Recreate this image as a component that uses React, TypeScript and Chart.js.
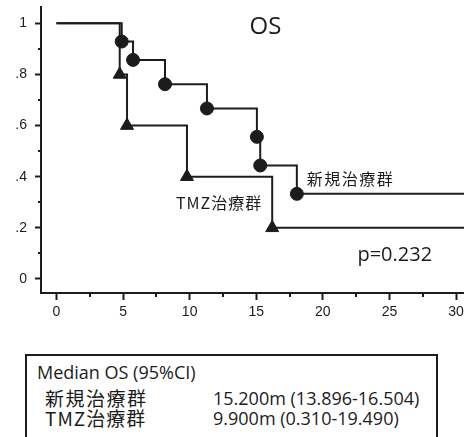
import React, { useEffect, useRef } from "react";
import { Chart, registerables } from "chart.js";

Chart.register(...registerables);

// Kaplan-Meier OS curves (months, survival fraction)
const newTimes = [0, 4.9, 5.75, 8.15, 11.3, 15.05, 15.3, 18.05, 31];
const newSurv = [1, 0.929, 0.857, 0.762, 0.667, 0.556, 0.444, 0.333, 0.333];
const tmzTimes = [0, 4.75, 5.3, 9.8, 16.2, 31];
const tmzSurv = [1, 0.8, 0.6, 0.4, 0.2, 0.2];

const xTickValues = [0, 2.5, 5, 7.5, 10, 12.5, 15, 17.5, 20, 22.5, 25, 27.5, 30];
const xTickLabels = ["0", "", "5", "", "10", "", "15", "", "20", "", "25", "", "30"];
const yTickValues = [0, 0.1, 0.2, 0.3, 0.4, 0.5, 0.6, 0.7, 0.8, 0.9, 1];
const yTickLabels = ["0", "", ".2", "", ".4", "", ".6", "", ".8", "", "1"];

const seriesNames = ["新規治療群", "TMZ治療群"];
const titleText = "OS";
const pText = "p=0.232";
const medianHeader = "Median OS (95%CI)";
const medianValues = ["15.200m (13.896-16.504)", "9.900m (0.310-19.490)"];

const INK = "#1c1c1c";
const tickFont = { family: "'Liberation Sans Narrow', 'Arial Narrow', 'Liberation Sans', sans-serif", size: 14 };

const labelAt = (vals: number[], labels: string[], v: number) => {
  let best = 0;
  for (let i = 0; i < vals.length; i++) if (Math.abs(vals[i] - v) < Math.abs(vals[best] - v)) best = i;
  return labels[best];
};

export default function App() {
  const ref = useRef<HTMLCanvasElement | null>(null);

  useEffect(() => {
    if (!ref.current) return;
    const notes = [
      { text: titleText, t: 14.5, s: 0.984, font: "24px 'Open Sans', sans-serif", ls: "0px" },
      { text: seriesNames[0], t: 18.8, s: 0.39, font: "16px 'Noto Sans CJK JP', sans-serif", ls: "1.5px" },
      { text: seriesNames[1], t: 8.97, s: 0.297, font: "16px 'Noto Sans CJK JP', sans-serif", ls: "1px" },
      { text: pText, t: 22.6, s: 0.094, font: "20px 'Open Sans', sans-serif", ls: "0px" },
    ];
    const annot = {
      id: "annot",
      afterDraw(chart: any) {
        const ctx = chart.ctx;
        const sx = chart.scales.x;
        const sy = chart.scales.y;
        ctx.save();
        // minor ticks
        ctx.strokeStyle = INK;
        ctx.lineWidth = 2;
        xTickValues.forEach((v, i) => {
          if (xTickLabels[i] !== "") return;
          const px = Math.round(sx.getPixelForValue(v));
          ctx.beginPath();
          ctx.moveTo(px, sx.top);
          ctx.lineTo(px, sx.top + 4);
          ctx.stroke();
        });
        yTickValues.forEach((v, i) => {
          if (yTickLabels[i] !== "") return;
          const py = Math.round(sy.getPixelForValue(v));
          ctx.beginPath();
          ctx.moveTo(sy.right, py);
          ctx.lineTo(sy.right - 3, py);
          ctx.stroke();
        });
        ctx.fillStyle = INK;
        ctx.textBaseline = "middle";
        ctx.textAlign = "left";
        notes.forEach((n) => {
          ctx.font = n.font;
          (ctx as any).letterSpacing = n.ls;
          ctx.fillText(n.text, sx.getPixelForValue(n.t), sy.getPixelForValue(n.s));
        });
        ctx.restore();
      },
    };

    const mk = (ts: number[], ss: number[]) => ts.map((t, i) => ({ x: t, y: ss[i] }));
    const radius = (r: number) => (c: any) => {
      const n = c.dataset.data.length;
      return c.dataIndex === 0 || c.dataIndex === n - 1 ? 0 : r;
    };

    const chart = new Chart(ref.current, {
      type: "line",
      data: {
        datasets: [
          {
            label: seriesNames[0],
            data: mk(newTimes, newSurv),
            stepped: "before",
            borderColor: INK,
            backgroundColor: INK,
            borderWidth: 2,
            pointStyle: "circle",
            pointRadius: radius(6.5),
            pointBorderWidth: 1,
            pointBorderColor: INK,
            pointBackgroundColor: INK,
            fill: false,
          },
          {
            label: seriesNames[1],
            data: mk(tmzTimes, tmzSurv),
            stepped: "before",
            borderColor: INK,
            backgroundColor: INK,
            borderWidth: 2,
            pointStyle: "triangle",
            pointRadius: radius(7.5),
            pointBorderWidth: 1,
            pointBorderColor: INK,
            pointBackgroundColor: INK,
            fill: false,
          },
        ],
      },
      options: {
        responsive: false,
        animation: false,
        layout: { padding: { top: 7, left: 0, right: 0, bottom: 0 } },
        plugins: { legend: { display: false }, tooltip: { enabled: false } },
        scales: {
          x: {
            type: "linear",
            min: -1.16,
            max: 30.6,
            afterBuildTicks: (s: any) => {
              s.ticks = xTickValues.map((v) => ({ value: v }));
            },
            afterFit: (s: any) => {
              s.height = 37;
              s.paddingLeft = 0;
              s.paddingRight = 0;
            },
            ticks: {
              autoSkip: false,
              maxRotation: 0,
              padding: 4,
              color: INK,
              font: tickFont,
              callback: (v: any) => labelAt(xTickValues, xTickLabels, Number(v)),
            },
            grid: {
              display: true,
              drawOnChartArea: false,
              drawTicks: true,
              tickLength: 7,
              tickWidth: 2,
              tickColor: (c: any) =>
                labelAt(xTickValues, xTickLabels, c.tick ? c.tick.value : 0) === "" ? "rgba(0,0,0,0)" : INK,
            },
            border: { display: true, color: INK, width: 2 },
          },
          y: {
            type: "linear",
            min: -0.055,
            max: 1.064,
            afterBuildTicks: (s: any) => {
              s.ticks = yTickValues.map((v) => ({ value: v }));
            },
            afterFit: (s: any) => {
              s.width = 41;
              s.paddingTop = 0;
              s.paddingBottom = 0;
            },
            ticks: {
              autoSkip: false,
              padding: 8,
              color: INK,
              font: tickFont,
              callback: (v: any) => labelAt(yTickValues, yTickLabels, Number(v)),
            },
            grid: {
              display: true,
              drawOnChartArea: false,
              drawTicks: true,
              tickLength: 6,
              tickWidth: 2,
              tickColor: (c: any) =>
                labelAt(yTickValues, yTickLabels, c.tick ? c.tick.value : 0) === "" ? "rgba(0,0,0,0)" : INK,
            },
            border: { display: true, color: INK, width: 2 },
          },
        },
      },
      plugins: [annot],
    } as any);
    return () => chart.destroy();
  }, []);

  const rowStyle: React.CSSProperties = {
    position: "absolute",
    whiteSpace: "nowrap",
    lineHeight: "22px",
    color: INK,
  };
  const latin = "'Open Sans', 'Noto Sans CJK JP', sans-serif";
  const cjk = "'Noto Sans CJK JP', sans-serif";

  return (
    <div
      style={{
        position: "absolute",
        left: 0,
        top: 0,
        width: 464,
        height: 437,
        overflow: "hidden",
        background: "#fff",
      }}
    >
      <canvas ref={ref} width={464} height={330} style={{ position: "absolute", left: 0, top: 0 }} />
      <div
        style={{
          position: "absolute",
          left: 25,
          top: 354,
          width: 413,
          height: 120,
          border: `2px solid ${INK}`,
          boxSizing: "border-box",
        }}
      />
      <div style={{ ...rowStyle, left: 37, top: 361, fontFamily: latin, fontSize: 18 }}>{medianHeader}</div>
      <div style={{ ...rowStyle, left: 45, top: 387, fontFamily: cjk, fontSize: 19, letterSpacing: "1.5px" }}>
        {seriesNames[0]}
      </div>
      <div style={{ ...rowStyle, left: 213, top: 387, fontFamily: latin, fontSize: 18 }}>{medianValues[0]}</div>
      <div style={{ ...rowStyle, left: 45, top: 407, fontFamily: cjk, fontSize: 19, letterSpacing: "1px" }}>
        {seriesNames[1]}
      </div>
      <div style={{ ...rowStyle, left: 213, top: 407, fontFamily: latin, fontSize: 18 }}>{medianValues[1]}</div>
    </div>
  );
}
